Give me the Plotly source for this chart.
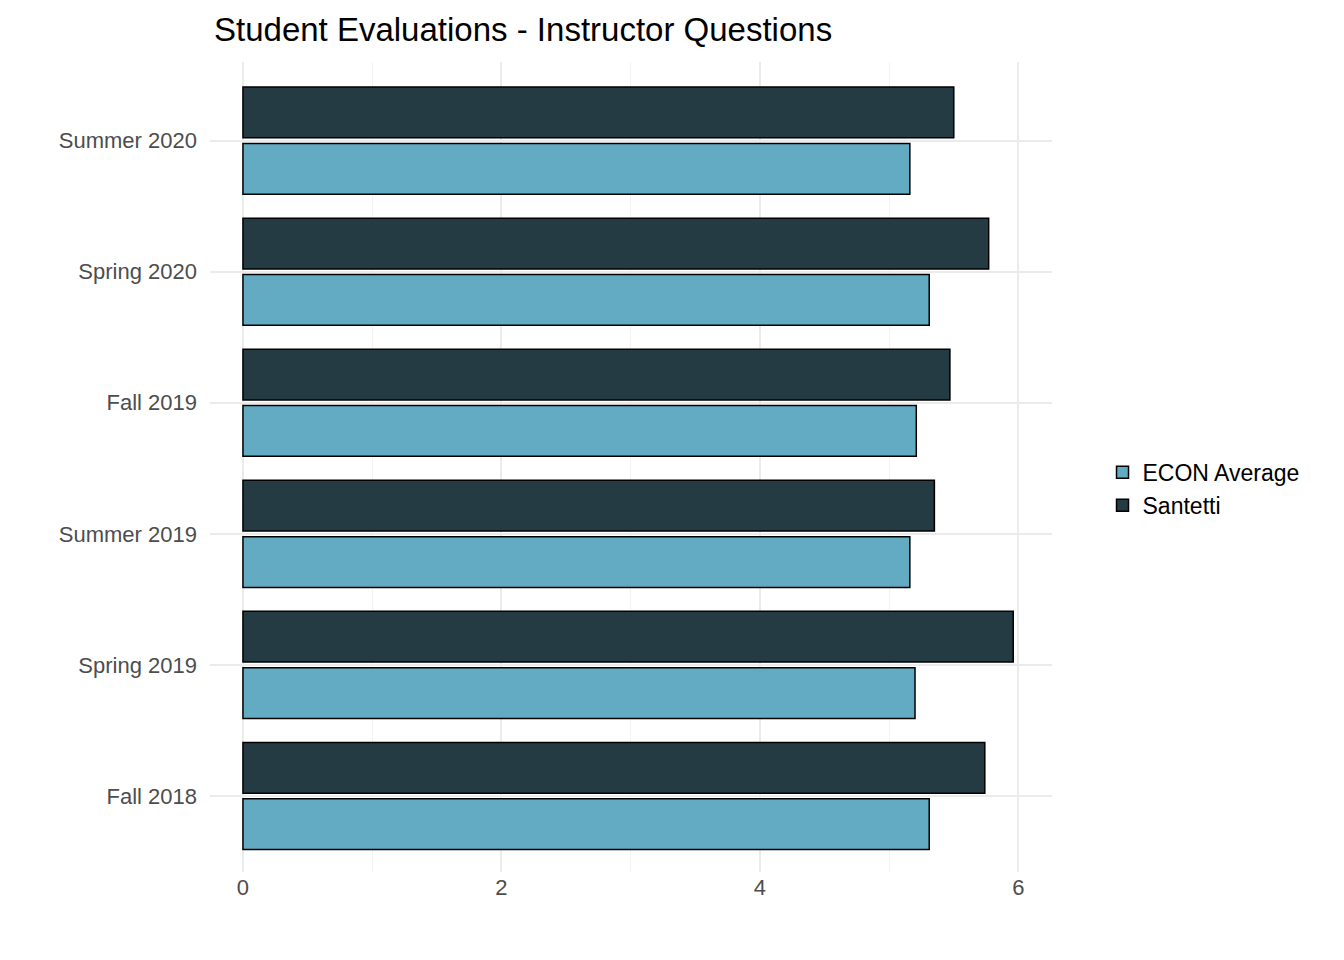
import plotly.graph_objects as go

terms = ["Fall 2018", "Spring 2019", "Summer 2019", "Fall 2019", "Spring 2020", "Summer 2020"]
econ_avg = [5.31, 5.20, 5.16, 5.21, 5.31, 5.16]
santetti = [5.74, 5.96, 5.35, 5.47, 5.77, 5.50]

fig = go.Figure()
fig.add_trace(go.Bar(y=terms, x=econ_avg, orientation="h", name="ECON Average",
                     marker=dict(color="#63abc2", line=dict(color="black", width=1.5))))
fig.add_trace(go.Bar(y=terms, x=santetti, orientation="h", name="Santetti",
                     marker=dict(color="#243b44", line=dict(color="black", width=1.5))))

fig.update_layout(
    barmode="group", bargap=0.14, bargroupgap=0.1,
    width=1344, height=960,
    margin=dict(l=202, r=300, t=54, b=96),
    plot_bgcolor="white", paper_bgcolor="white",
    font=dict(family="Liberation Sans, Arial", size=22, color="#4d4d4d"),
    title=dict(text="Student Evaluations - Instructor Questions", x=206 / 1344, xref="container",
               xanchor="left", y=0.978, yanchor="middle", font=dict(size=33, color="black")),
    legend=dict(x=1.06, y=0.473, yanchor="middle", font=dict(size=23, color="black"),
                traceorder="normal"),
)
fig.update_xaxes(range=[-0.255, 6.26], tickvals=[0, 2, 4, 6], gridcolor="#ebebeb",
                 gridwidth=1.5, zeroline=False, showline=False, ticks="",
                 minor=dict(tickvals=[1, 3, 5], showgrid=True, gridcolor="#f3f3f3", gridwidth=1))
fig.update_yaxes(range=[-0.58, 5.6], gridcolor="#ebebeb", gridwidth=1.5, ticks="",
                 ticklabelstandoff=12)

fig.write_html("out.html")
